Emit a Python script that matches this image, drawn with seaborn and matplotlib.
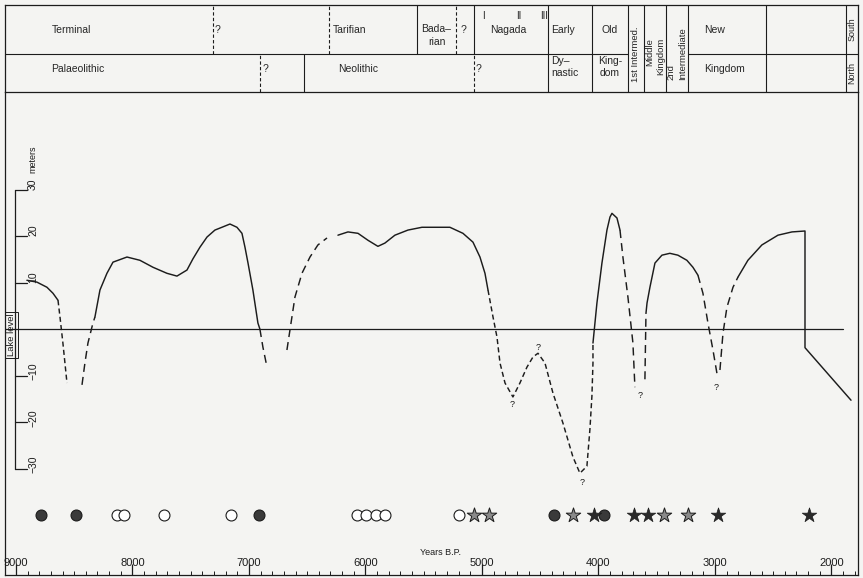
import numpy as np
import pandas as pd
import matplotlib
matplotlib.use("Agg")
import matplotlib.pyplot as plt
import seaborn as sns

# --- lake level curve, years B.P. vs metres, one list pair per stretch ---
s1_yr = [8906, 8820, 8734, 8682, 8639]
s1_lv = [10.5, 10.1, 9.0, 7.7, 6.2]
s1d_yr = [8639, 8622, 8597, 8562]
s1d_lv = [6.2, 2.6, -3.0, -11.6]

s2d_yr = [8433, 8408, 8382, 8339, 8322]
s2d_lv = [-12.0, -7.3, -3.0, 1.3, 2.6]
s2_yr = [8322, 8279, 8219, 8167, 8047, 7936, 7824, 7704, 7618, 7532, 7481, 7421,
         7360, 7292, 7232, 7163, 7103, 7060, 7034, 7008, 6966, 6923, 6906]
s2_lv = [2.6, 8.4, 12.0, 14.4, 15.5, 14.8, 13.3, 12.0, 11.4, 12.7, 15.1, 17.6,
         19.8, 21.3, 21.9, 22.6, 21.9, 20.6, 17.6, 14.2, 8.4, 1.3, 0.0]
s2e_yr = [6906, 6880, 6845]
s2e_lv = [0.0, -3.9, -8.2]

s3d_yr = [6674, 6648, 6605, 6545, 6476, 6408, 6330]
s3d_lv = [-4.5, -0.2, 6.9, 12.0, 15.5, 18.1, 19.6]
s3_yr = [6236, 6150, 6064, 5978, 5893, 5833, 5747, 5635, 5515, 5446, 5275, 5163,
         5077, 5017, 4974, 4948]
s3_lv = [20.2, 20.9, 20.6, 19.1, 17.8, 18.5, 20.2, 21.3, 21.9, 21.9, 21.9, 20.6,
         18.7, 15.5, 12.0, 8.4]

s4q_yr = [4948, 4905, 4871, 4845, 4802, 4734, 4674, 4614, 4562, 4519, 4459, 4390,
          4305, 4219, 4159, 4099, 4073, 4056, 4047, 4047]
s4q_lv = [8.4, 2.6, -1.7, -7.3, -11.6, -14.6, -11.6, -8.2, -6.0, -5.2, -7.3, -13.8,
          -20.2, -27.5, -31.0, -29.5, -21.5, -14.4, -7.3, -3.0]
s4_yr = [4047, 4013, 3970, 3927, 3901, 3884, 3841, 3815]
s4_lv = [-3.0, 5.6, 14.2, 21.3, 24.1, 24.9, 23.9, 21.3]
s5d_yr = [3815, 3790, 3747, 3704, 3687]
s5d_lv = [21.3, 15.5, 6.9, -3.0, -12.5]

s6d_yr = [3601, 3592]
s6d_lv = [-10.8, 3.4]
s6_yr = [3592, 3583, 3558, 3515, 3455, 3387, 3318, 3241, 3189, 3146]
s6_lv = [3.4, 5.6, 9.0, 14.2, 15.9, 16.3, 15.9, 14.8, 13.3, 11.6]
s7d_yr = [3146, 3103, 3060, 3017, 2983]
s7d_lv = [11.6, 7.7, 1.3, -4.5, -9.5]
s8d_yr = [2957, 2931, 2897, 2845, 2802]
s8d_lv = [-8.8, -0.9, 4.7, 9.0, 11.2]
s8_yr = [2802, 2717, 2597, 2459, 2339, 2227, 2227, 1832]
s8_lv = [11.2, 14.8, 18.1, 20.2, 20.9, 21.1, -4.0, -15.3]

# question marks beside uncertain minima / maxima
q_yr = [4742, 4519, 4141, 3644, 2991]
q_lv = [-16.3, -3.9, -32.9, -14.2, -12.5]

# site symbols along the bottom
open_circle_yr = [8133, 8073, 7730, 7154, 6073, 5996, 5910, 5833, 5197]
filled_circle_yr = [8785, 8485, 6914, 4382, 3953]
dark_star_yr = [4038, 3695, 3575, 2974, 2193]
light_star_yr = [5068, 4940, 4219, 3437, 3232]
symbol_lv = -40

year_ticks = [9000, 8000, 7000, 6000, 5000, 4000, 3000, 2000]
scale_ticks = [30, 20, 10, -10, -20, -30]

ink = "#1c1c1c"
paper = "#f4f4f2"

sns.set_style("white")
plt.rcParams['font.family'] = ['Liberation Sans', 'DejaVu Sans']

fig = plt.figure(figsize=(8.63, 5.78), dpi=100, facecolor=paper)
ax = fig.add_axes([5 / 863, 3 / 578, 853 / 863, 483 / 578])
axt = fig.add_axes([5 / 863, 486 / 578, 853 / 863, 87 / 578], sharex=ax)
for a in (ax, axt):
    a.set_facecolor(paper)

ax.set_xlim(9094, 1772)
ax.set_ylim(-52.9, 51.0)

long_dash = (5.5, 3.5)
short_dash = (3.5, 2.2)


def seg(yrs, lvs, dashes=None):
    df = pd.DataFrame({"yr": yrs, "lv": lvs})
    sns.lineplot(data=df, x="yr", y="lv", ax=ax, color=ink, lw=1.05,
                 sort=False, estimator=None)
    if dashes:
        ax.lines[-1].set_dashes(dashes)


seg(s1_yr, s1_lv)
seg(s1d_yr, s1d_lv, short_dash)
seg(s2d_yr, s2d_lv, long_dash)
seg(s2_yr, s2_lv)
seg(s2e_yr, s2e_lv, long_dash)
seg(s3d_yr, s3d_lv, long_dash)
seg(s3_yr, s3_lv)
seg(s4q_yr, s4q_lv, short_dash)
seg(s4_yr, s4_lv)
seg(s5d_yr, s5d_lv, long_dash)
seg(s6d_yr, s6d_lv, long_dash)
seg(s6_yr, s6_lv)
seg(s7d_yr, s7d_lv, long_dash)
seg(s8d_yr, s8d_lv, long_dash)
seg(s8_yr, s8_lv)

for x, y in zip(q_yr, q_lv):
    ax.text(x, y, "?", fontsize=6.5, ha="center", va="center", color=ink)

# symbols
sns.scatterplot(x=open_circle_yr, y=[symbol_lv] * len(open_circle_yr), ax=ax,
                marker="o", s=62, facecolor="white", edgecolor=ink, linewidth=0.8)
sns.scatterplot(x=filled_circle_yr, y=[symbol_lv] * len(filled_circle_yr), ax=ax,
                marker="o", s=62, facecolor="#3a3a3a", edgecolor=ink, linewidth=0.8)
sns.scatterplot(x=dark_star_yr, y=[symbol_lv] * len(dark_star_yr), ax=ax,
                marker="*", s=120, facecolor="#2a2a2a", edgecolor=ink, linewidth=0.5)
sns.scatterplot(x=light_star_yr, y=[symbol_lv] * len(light_star_yr), ax=ax,
                marker="*", s=120, facecolor="#8a8a8a", edgecolor=ink, linewidth=0.7)

# lake level datum and the metre scale
ax.axhline(0, xmin=0, xmax=0.982, color=ink, lw=0.9)
ytr = ax.get_yaxis_transform()
ax.plot([0.0117, 0.0117], [min(scale_ticks), max(scale_ticks)], color=ink,
        lw=0.9, transform=ytr)
for v in scale_ticks:
    ax.plot([0.0117, 0.026], [v, v], color=ink, lw=0.9, transform=ytr)
    ax.text(0.033, v - (1.0 if v < 0 else 0), str(v).replace("-", "\u2212"),
            transform=ytr, rotation=90, rotation_mode="anchor", ha="left",
            va="center", fontsize=7.5, color=ink)
ax.text(0.033, 33.5, "meters", transform=ytr, rotation=90, rotation_mode="anchor",
        ha="left", va="center", fontsize=6.5, color=ink)
ax.text(0.0075, -1.3, "Lake level", transform=ytr, rotation=90, ha="center",
        va="center", fontsize=6.8, color=ink,
        bbox=dict(boxstyle="square,pad=0.2", fc="none", ec=ink, lw=0.7))

# x axis: ticks and labels sit inside, above the base line
ax.set_xticks(year_ticks)
ax.set_xticks(np.arange(9000, 1750, -100), minor=True)
ax.set_xticklabels([str(t) for t in year_ticks])
ax.tick_params(axis="x", which="major", direction="in", length=8, width=0.9,
               pad=-12.5, labelsize=8, colors=ink, bottom=True)
ax.tick_params(axis="x", which="minor", direction="in", length=3, width=0.7,
               bottom=True, colors=ink)
ax.set_yticks([])
ax.set_xlabel("")
ax.set_ylabel("")
ax.text(5532, -48, "Years B.P.", fontsize=6.5, ha="left", va="center", color=ink)
for side in ("left", "right", "bottom"):
    ax.spines[side].set_color(ink)
    ax.spines[side].set_linewidth(0.9)
ax.spines["top"].set_visible(False)

# --- period table across the top ---
axt.set_ylim(0, 1)
axt.set_yticks([])
axt.tick_params(axis="x", which="both", bottom=False, labelbottom=False)
for side in axt.spines:
    axt.spines[side].set_color(ink)
    axt.spines[side].set_linewidth(0.9)

mid = 0.44
kw = dict(color=ink, lw=0.8)
for yr in [5558, 5069]:
    axt.plot([yr, yr], [mid, 1], **kw)
for yr in [7309, 6313, 5223]:
    axt.plot([yr, yr], [mid, 1], ls=(0, (3, 2)), **kw)
axt.plot([6528, 6528], [0, mid], **kw)
for yr in [6906, 5069]:
    axt.plot([yr, yr], [0, mid], ls=(0, (3, 2)), **kw)
for yr in [4433, 4056, 3747, 3609, 3420, 3232, 2562, 1875]:
    axt.axvline(yr, **kw)
axt.plot([9094, 3747], [mid, mid], **kw)
axt.plot([3232, 1772], [mid, mid], **kw)

fs = 7.5
top_y, bot_y = 0.71, 0.26
axt.text(8519, top_y, "Terminal", ha="center", va="center", fontsize=fs)
axt.text(7266, top_y, "?", ha="center", va="center", fontsize=fs)
axt.text(6279, top_y, "Tarifian", ha="left", va="center", fontsize=fs)
axt.text(5390, 0.72, "Bada\u2013", ha="center", va="center", fontsize=fs)
axt.text(5390, 0.57, "rian", ha="center", va="center", fontsize=fs)
axt.text(5160, top_y, "?", ha="center", va="center", fontsize=fs)
for yr, r in zip([4983, 4683, 4468], ["I", "II", "III"]):
    axt.text(yr, 0.87, r, ha="center", va="center", fontsize=7)
axt.text(4777, top_y, "Nagada", ha="center", va="center", fontsize=fs)
axt.text(4405, top_y, "Early", ha="left", va="center", fontsize=fs)
axt.text(3901, top_y, "Old", ha="center", va="center", fontsize=fs)
axt.text(3094, top_y, "New", ha="left", va="center", fontsize=fs)
axt.text(1824, 0.72, "South", rotation=90, ha="center", va="center", fontsize=6.5)

axt.text(8468, bot_y, "Palaeolithic", ha="center", va="center", fontsize=fs)
axt.text(6860, bot_y, "?", ha="center", va="center", fontsize=fs)
axt.text(6064, bot_y, "Neolithic", ha="center", va="center", fontsize=fs)
axt.text(5030, bot_y, "?", ha="center", va="center", fontsize=fs)
axt.text(4405, 0.36, "Dy\u2013", ha="left", va="center", fontsize=fs)
axt.text(4405, 0.22, "nastic", ha="left", va="center", fontsize=fs)
axt.text(3901, 0.36, "King-", ha="center", va="center", fontsize=fs)
axt.text(3901, 0.22, "dom", ha="center", va="center", fontsize=fs)
axt.text(3094, bot_y, "Kingdom", ha="left", va="center", fontsize=fs)
axt.text(1824, 0.22, "North", rotation=90, ha="center", va="center", fontsize=6.5)

rot = dict(rotation=90, rotation_mode="anchor", ha="left", va="center", fontsize=6.8)
axt.text(3678, 0.11, "1st Intermed.", **rot)
axt.text(3560, 0.30, "Middle", **rot)
axt.text(3468, 0.20, "Kingdom", **rot)
axt.text(3376, 0.14, "2nd", **rot)
axt.text(3274, 0.14, "Intermediate", **rot)

fig.savefig("out.png", dpi=100, facecolor=paper)
